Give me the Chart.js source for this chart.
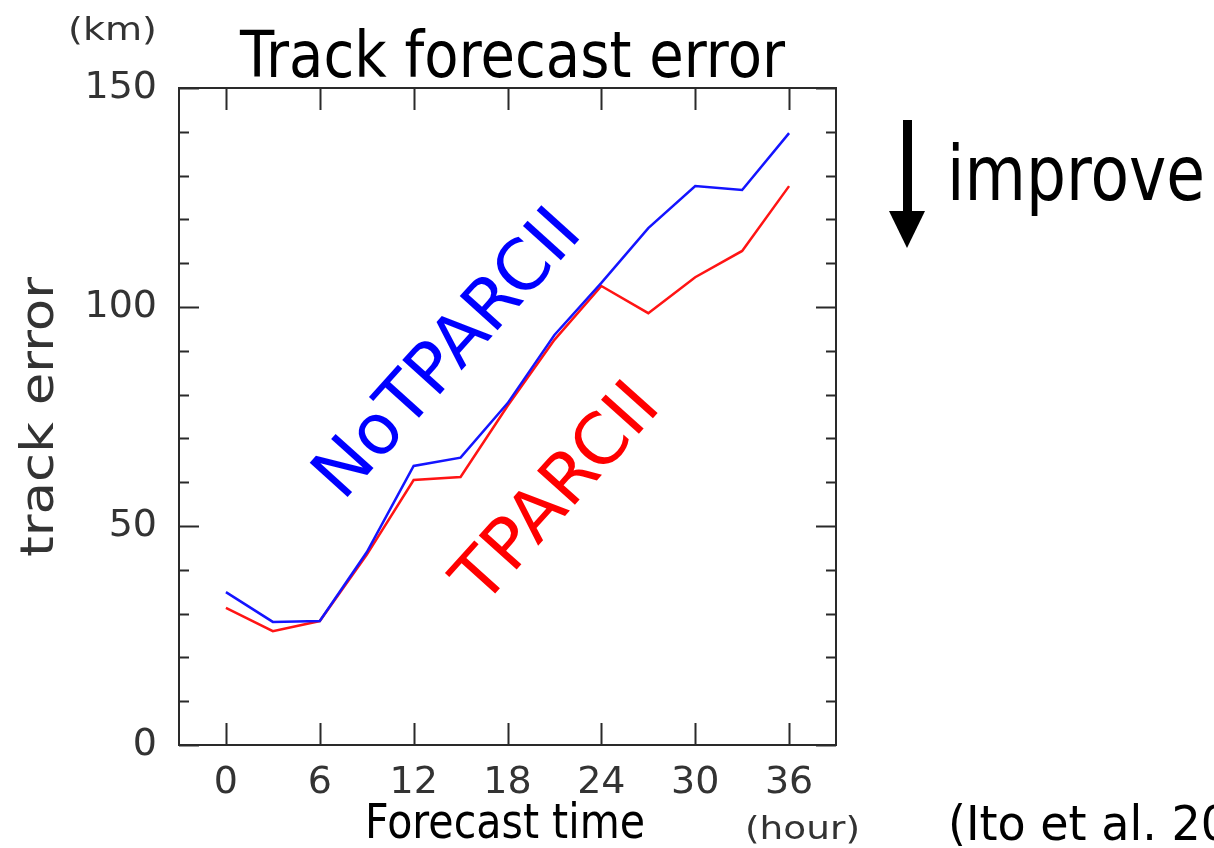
<!DOCTYPE html>
<html>
<head>
<meta charset="utf-8">
<script src="https://cdn.jsdelivr.net/npm/chart.js@4"></script>
<style>
  html, body { margin: 0; padding: 0; background: #fff; }
  #wrap { width: 1214px; height: 848px; position: relative; }
</style>
</head>
<body>
<div id="wrap"><canvas id="errChart"></canvas></div>
<script>
// forecast lead time (hour) and mean track error (km)
const hours = [0, 3, 6, 9, 12, 15, 18, 21, 24, 27, 30, 33, 36];
const noTparcii = [34.9, 28.1, 28.3, 44.0, 63.7, 65.6, 78.0, 93.6, 105.5, 118.0, 127.6, 126.7, 139.7];
const tparcii = [31.3, 26.0, 28.3, 43.4, 60.5, 61.2, 77.4, 92.5, 104.8, 98.6, 106.8, 112.8, 127.6];

const xTickValues = [0, 6, 12, 18, 24, 30, 36];
const yTickValues = [0, 10, 20, 30, 40, 50, 60, 70, 80, 90, 100, 110, 120, 130, 140, 150];
const yLabelValues = [0, 50, 100, 150];

const FONT = "'DejaVu Sans', Verdana, sans-serif";
const AXIS_COLOR = '#2a2a2a';

// text squeezed to a given width (looks closer to a narrow sans)
function fitText(ctx, text, x, y, size, color, width) {
    ctx.save();
    ctx.font = size + 'px ' + FONT;
    ctx.fillStyle = color;
    ctx.textBaseline = 'alphabetic';
    ctx.textAlign = 'left';
    const w = ctx.measureText(text).width;
    ctx.translate(x, y);
    ctx.scale(width / w, 1);
    ctx.fillText(text, 0, 0);
    ctx.restore();
}

function rotatedText(ctx, text, x, y, deg, size, color, width) {
    ctx.save();
    ctx.translate(x, y);
    ctx.rotate(deg * Math.PI / 180);
    fitText(ctx, text, 0, 0, size, color, width);
    ctx.restore();
}

const frameAndNotes = {
    id: 'frameAndNotes',
    afterDraw(chart) {
        const ctx = chart.ctx;
        const area = chart.chartArea;
        const xs = chart.scales.x;
        const ys = chart.scales.y;

        ctx.save();
        ctx.strokeStyle = AXIS_COLOR;
        ctx.lineWidth = 2;
        ctx.strokeRect(area.left, area.top, area.right - area.left, area.bottom - area.top);

        // inward ticks on all four sides
        ctx.beginPath();
        xTickValues.forEach(v => {
            const px = Math.round(xs.getPixelForValue(v)) + 0.5;
            ctx.moveTo(px, area.bottom);
            ctx.lineTo(px, area.bottom - 22);
            ctx.moveTo(px, area.top);
            ctx.lineTo(px, area.top + 22);
        });
        yTickValues.forEach(v => {
            const py = Math.round(ys.getPixelForValue(v)) + 0.5;
            const len = yLabelValues.includes(v) ? 20 : 10;
            ctx.moveTo(area.left, py);
            ctx.lineTo(area.left + len, py);
            ctx.moveTo(area.right, py);
            ctx.lineTo(area.right - len, py);
        });
        ctx.stroke();
        ctx.restore();

        // titles and units
        fitText(ctx, 'Track forecast error', 240, 77, 64, '#000', 545);
        fitText(ctx, '(km)', 68, 40, 32, '#333', 89);
        fitText(ctx, '(hour)', 745, 839, 32, '#333', 115);
        fitText(ctx, 'Forecast time', 365, 838, 48, '#000', 280);
        rotatedText(ctx, 'track error', 53, 557, -90, 46, '#333', 280);

        // run names along the curves
        rotatedText(ctx, 'NoTPARCII', 343, 502, -48, 70, '#0000ff', 360);
        rotatedText(ctx, 'TPARCII', 483, 607, -48, 70, '#ff0000', 268);

        // "improve" arrow
        ctx.save();
        ctx.fillStyle = '#000';
        ctx.fillRect(903, 120, 9, 93);
        ctx.beginPath();
        ctx.moveTo(889, 211);
        ctx.lineTo(925, 211);
        ctx.lineTo(907, 248);
        ctx.closePath();
        ctx.fill();
        ctx.restore();
        fitText(ctx, 'improve', 947, 200, 77, '#000', 258);

        fitText(ctx, '(Ito et al. 20', 948, 840, 48, '#000', 282);
    }
};

new Chart(document.getElementById('errChart'), {
    type: 'line',
    data: {
        datasets: [
            {
                label: 'NoTPARCII',
                data: hours.map((h, i) => ({ x: h, y: noTparcii[i] })),
                borderColor: '#1414ff',
                borderWidth: 2.5,
                pointRadius: 0,
                fill: false
            },
            {
                label: 'TPARCII',
                data: hours.map((h, i) => ({ x: h, y: tparcii[i] })),
                borderColor: '#ff1414',
                borderWidth: 2.5,
                pointRadius: 0,
                fill: false
            }
        ]
    },
    options: {
        responsive: true,
        maintainAspectRatio: false,
        animation: false,
        layout: { padding: { top: 88, right: 378, left: 0, bottom: 0 } },
        plugins: {
            legend: { display: false },
            tooltip: { enabled: false }
        },
        scales: {
            x: {
                type: 'linear',
                min: -3,
                max: 39,
                afterBuildTicks: s => { s.ticks = xTickValues.map(v => ({ value: v })); },
                afterFit: s => { s.height = 103; },
                grid: { display: false, drawTicks: false },
                border: { display: false },
                ticks: {
                    autoSkip: false,
                    maxRotation: 0,
                    padding: 15,
                    color: '#333',
                    font: { family: FONT, size: 38 }
                }
            },
            y: {
                type: 'linear',
                min: 0,
                max: 150,
                afterBuildTicks: s => { s.ticks = yTickValues.map(v => ({ value: v })); },
                afterFit: s => { s.width = 179; },
                grid: { display: false, drawTicks: false },
                border: { display: false },
                ticks: {
                    autoSkip: false,
                    padding: 22,
                    color: '#333',
                    font: { family: FONT, size: 38 },
                    callback: v => (yLabelValues.includes(v) ? String(v) : '')
                }
            }
        }
    },
    plugins: [frameAndNotes]
});
</script>
</body>
</html>
